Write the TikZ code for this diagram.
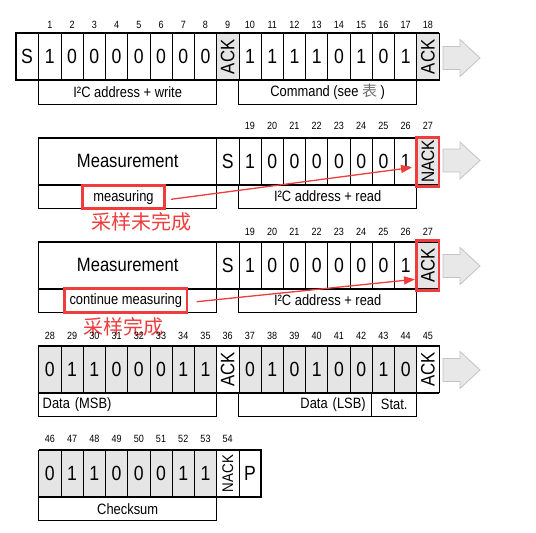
\documentclass[tikz,border=0pt]{standalone}
\usepackage{graphicx}
\usepackage{fontspec}
\setmainfont{Liberation Sans}[FakeStretch=0.86]
\newfontfamily\cjkfont{Noto Sans CJK SC}
\usetikzlibrary{arrows.meta}
\definecolor{cellgray}{RGB}{229,229,229}
\definecolor{arrgray}{RGB}{232,232,232}
\definecolor{arredge}{RGB}{195,195,195}
\definecolor{hlred}{RGB}{240,60,60}
\definecolor{cjkgray}{RGB}{110,110,110}
\tikzset{
  bitcell/.style={draw, line width=0.7pt, minimum width=22.24pt, minimum height=47pt,
    inner sep=0pt, outer sep=0pt, anchor=north west, font=\fontsize{20.5}{24}\selectfont},
  graycell/.style={bitcell, fill=cellgray},
  bitnum/.style={font=\fontsize{10.5}{12}\selectfont, inner sep=0pt},
  lblbox/.style={draw, line width=0.7pt, minimum width=178pt, minimum height=23.6pt,
    inner sep=0pt, outer sep=0pt, anchor=north west, font=\fontsize{15}{18}\selectfont},
  thickline/.style={line width=2pt},
  hollowarrow/.style={fill=arrgray, draw=arredge, line width=0.8pt, line join=miter},
  redbox/.style={draw=hlred, line width=2.7pt, inner sep=0pt, font=\fontsize{15}{18}\selectfont},
  redframe/.style={draw=hlred, line width=2.7pt},
  redarrow/.style={draw=hlred, line width=1.3pt, -{Triangle[length=11pt,width=8pt]}},
  redtext/.style={text=hlred, font=\cjkfont\fontsize{20}{24}\selectfont, inner sep=0pt},
  measfont/.style={font=\fontsize{19.3}{24}\selectfont}
}
\begin{document}
\begin{tikzpicture}[x=1pt,y=-1pt]
\useasboundingbox (0,0) rectangle (536,533);

% ---------------- Row 1 ----------------
\node[bitcell, minimum width=23.2pt] (r1s) at (15.5,33.3) {S};
\foreach \i/\v in {1/1,2/0,3/0,4/0,5/0,6/0,7/0,8/0,10/1,11/1,12/1,13/1,14/0,15/1,16/0,17/1}
  \node[bitcell] (r1c\i) at ({38.7+(\i-1)*22.24},33.3) {\v};
\foreach \i in {9,18}
  \node[graycell] (r1c\i) at ({38.7+(\i-1)*22.24},33.3) {\rotatebox{90}{\fontsize{19.5}{20}\selectfont ACK}};
\foreach \i in {1,...,18}
  \node[bitnum] (r1n\i) at ({38.7+(\i-0.5)*22.24},24.5) {\i};
\draw[thickline] (15.5,33.3) -- (439,33.3);
\draw[thickline] (15.5,80.3) -- (439,80.3);
\draw[thickline] (15.5,32.3) -- (15.5,81.3);
\node[lblbox] (r1l1) at (38.7,80.3) {I²C address + write};
\node[lblbox] (r1l2) at (238.7,80.3) {Command (see {\cjkfont\color{cjkgray}表} )};

% ---------------- Row 2 ----------------
\node[bitcell, minimum width=178pt, measfont] (r2m) at (38.7,137.7) {Measurement};
\node[bitcell] (r2s) at (216.7,137.7) {S};
\foreach \i/\v in {10/1,11/0,12/0,13/0,14/0,15/0,16/0,17/1}
  \node[bitcell] (r2c\i) at ({38.7+(\i-1)*22.24},137.7) {\v};
\node[graycell] (r2c18) at ({38.7+17*22.24},137.7) {\rotatebox{90}{\fontsize{18}{20}\selectfont NACK}};
\foreach \i [evaluate=\i as \n using int(\i+9)] in {10,...,18}
  \node[bitnum] (r2n\i) at ({38.7+(\i-0.5)*22.24},126.2) {\n};
\draw[thickline] (38.7,137.7) -- (439,137.7);
\draw[thickline] (38.7,184.7) -- (439,184.7);
\node[lblbox] (r2l1) at (38.7,184.7) {};
\node[lblbox] (r2l2) at (238.7,184.7) {I²C address + read};
\node[redbox, minimum width=82.2pt, minimum height=23.2pt] (r2red) at (123.5,197.2) {measuring};
\draw[redframe] (r2c18.north west) rectangle ([yshift=-1.5pt]r2c18.south east);
\node[redtext] (r2txt) at (141.7,221.7) {采样未完成};
\coordinate (r2from) at (171,199.3);
\coordinate (r2to) at (412,167.5);
\draw[redarrow] (r2from) -- (r2to);

% ---------------- Row 3 ----------------
\node[bitcell, minimum width=178pt, measfont] (r3m) at (38.7,241.7) {Measurement};
\node[bitcell] (r3s) at (216.7,241.7) {S};
\foreach \i/\v in {10/1,11/0,12/0,13/0,14/0,15/0,16/0,17/1}
  \node[bitcell] (r3c\i) at ({38.7+(\i-1)*22.24},241.7) {\v};
\node[graycell] (r3c18) at ({38.7+17*22.24},241.7) {\rotatebox{90}{\fontsize{19.5}{20}\selectfont ACK}};
\foreach \i [evaluate=\i as \n using int(\i+9)] in {10,...,18}
  \node[bitnum] (r3n\i) at ({38.7+(\i-0.5)*22.24},231.7) {\n};
\draw[thickline] (38.7,241.7) -- (439,241.7);
\draw[thickline] (38.7,288.7) -- (439,288.7);
\node[lblbox] (r3l1) at (38.7,288.7) {};
\node[lblbox] (r3l2) at (238.7,288.7) {I²C address + read};
\node[redbox, minimum width=122.2pt, minimum height=24pt] (r3red) at (125.8,300.2) {continue measuring};
\draw[redframe] ([yshift=1pt]r3c18.north west) rectangle ([yshift=-1.5pt]r3c18.south east);
\node[redtext] (r3txt) at (123.3,326.7) {采样完成};
\coordinate (r3from) at (196.7,301.7);
\coordinate (r3to) at (415,279.3);
\draw[redarrow] (r3from) -- (r3to);

% ---------------- Row 4 ----------------
\foreach \i/\v in {1/0,2/1,3/1,4/0,5/0,6/0,7/1,8/1,10/0,11/1,12/0,13/1,14/0,15/0,16/1,17/0}
  \node[graycell] (r4c\i) at ({38.7+(\i-1)*22.24},345.7) {\v};
\foreach \i in {9,18}
  \node[bitcell] (r4c\i) at ({38.7+(\i-1)*22.24},345.7) {\rotatebox{90}{\fontsize{19.5}{20}\selectfont ACK}};
\foreach \i [evaluate=\i as \n using int(\i+27)] in {1,...,18}
  \node[bitnum] (r4n\i) at ({38.7+(\i-0.5)*22.24},335.7) {\n};
\draw[thickline] (38.7,345.7) -- (439,345.7);
\draw[thickline] (38.7,392.7) -- (439,392.7);
\node[lblbox, text width=170pt, inner xsep=4pt, align=left] (r4l1) at (38.7,392.7) {Data (MSB)};
\node[lblbox, minimum width=133pt, text width=121pt, inner xsep=6pt, align=right] (r4l2) at (238.7,392.7) {Data (LSB)};
\node[lblbox, minimum width=45pt] (r4l3) at (371.7,392.7) {Stat.};

% ---------------- Row 5 ----------------
\foreach \i/\v in {1/0,2/1,3/1,4/0,5/0,6/0,7/1,8/1}
  \node[graycell] (r5c\i) at ({38.7+(\i-1)*22.24},450) {\v};
\node[bitcell] (r5c9) at ({38.7+8*22.24},450) {\rotatebox{90}{\fontsize{15.5}{16}\selectfont NACK}};
\node[bitcell] (r5c10) at ({38.7+9*22.24},450) {P};
\foreach \i [evaluate=\i as \n using int(\i+45)] in {1,...,9}
  \node[bitnum] (r5n\i) at ({38.7+(\i-0.5)*22.24},439) {\n};
\draw[thickline] (38.7,450) -- (261.1,450);
\draw[thickline] (38.7,497) -- (261.1,497);
\draw[thickline] (261.1,449) -- (261.1,498);
\node[lblbox] (r5l1) at (38.7,497) {Checksum};

% ---------------- hollow arrows ----------------
\foreach \c in {58,160.5,266,370}
  \draw[hollowarrow] (443,\c-11.5) -- (460,\c-11.5) -- (460,\c-18.5) -- (480,\c)
    -- (460,\c+18.5) -- (460,\c+11.5) -- (443,\c+11.5) -- cycle;
\end{tikzpicture}
\end{document}
